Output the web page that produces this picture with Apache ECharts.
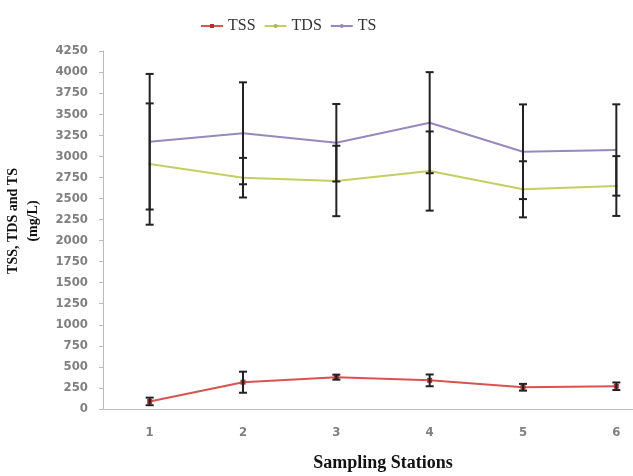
<!DOCTYPE html>
<html>
<head>
<meta charset="utf-8">
<script src="https://cdn.jsdelivr.net/npm/echarts@6/dist/echarts.min.js"></script>
<style>html,body{margin:0;padding:0;background:#fff;overflow:hidden;width:633px;height:476px;}#c{width:700px;height:476px;}</style>
</head>
<body>
<div id="c"></div>
<script>
const categories = ['1', '2', '3', '4', '5', '6'];
const tss = [90, 318, 378, 340, 258, 270];
const tssErr = [45, 125, 30, 70, 40, 45];
const tds = [2908, 2746, 2707, 2825, 2608, 2647];
const tdsErr = [720, 235, 418, 470, 333, 355];
const ts = [3173, 3273, 3161, 3399, 3054, 3075];
const tsErr = [805, 605, 460, 600, 562, 542];

function errData(vals, errs) {
  return vals.map((v, i) => [i, v - errs[i], v + errs[i]]);
}

function errSeries(name, vals, errs) {
  return {
    type: 'custom',
    name: name + ' err',
    z: 5,
    silent: true,
    data: errData(vals, errs),
    encode: { x: 0, y: [1, 2] },
    renderItem: function (params, api) {
      const x = api.value(0);
      const lo = api.coord([x, api.value(1)]);
      const hi = api.coord([x, api.value(2)]);
      const hw = 4;
      const style = { stroke: '#222', lineWidth: 2 };
      return {
        type: 'group',
        children: [
          { type: 'line', shape: { x1: lo[0], y1: lo[1], x2: hi[0], y2: hi[1] }, style: style },
          { type: 'line', shape: { x1: lo[0] - hw, y1: lo[1], x2: lo[0] + hw, y2: lo[1] }, style: style },
          { type: 'line', shape: { x1: hi[0] - hw, y1: hi[1], x2: hi[0] + hw, y2: hi[1] }, style: style }
        ]
      };
    }
  };
}

const tickFont = { fontFamily: 'DejaVu Sans Condensed, DejaVu Sans', fontWeight: 'bold', fontSize: 13, color: '#808080' };

const chart = echarts.init(document.getElementById('c'), null, { renderer: 'canvas' });
chart.setOption({
  animation: false,
  backgroundColor: '#fff',
  legend: {
    data: ['TSS', 'TDS', 'TS'],
    left: 195,
    top: 13,
    itemWidth: 22,
    itemHeight: 5,
    itemGap: 8,
    textStyle: { fontFamily: 'Liberation Serif', fontSize: 16, color: '#333' }
  },
  grid: { left: 103, right: 37, top: 51, bottom: 67, outerBoundsMode: 'none', containLabel: false },
  xAxis: {
    type: 'category',
    data: categories,
    boundaryGap: true,
    name: 'Sampling Stations',
    nameLocation: 'middle',
    nameGap: 45,
    nameTextStyle: { fontFamily: 'Liberation Serif', fontWeight: 'bold', fontSize: 18, color: '#111' },
    axisLine: { lineStyle: { color: '#bbb', width: 1 } },
    axisTick: { lineStyle: { color: '#bbb' }, length: 4 },
    axisLabel: Object.assign({ margin: 17 }, tickFont)
  },
  yAxis: {
    type: 'value',
    min: 0,
    max: 4250,
    interval: 250,
    name: 'TSS, TDS and TS\n(mg/L)',
    nameLocation: 'middle',
    nameRotate: 90,
    nameGap: 60,
    nameTextStyle: { fontFamily: 'Liberation Serif', fontWeight: 'bold', fontSize: 14, color: '#111', lineHeight: 20, padding: [0, 0, 0, 18] },
    splitLine: { show: false },
    axisLine: { show: true, lineStyle: { color: '#bbb', width: 1 } },
    axisTick: { show: true, lineStyle: { color: '#bbb' }, length: 4 },
    axisLabel: Object.assign({ margin: 15, formatter: function (v) { return String(v); } }, tickFont)
  },
  series: [
    {
      name: 'TSS', type: 'line', data: tss, z: 3,
      symbol: 'rect', symbolSize: 5, showSymbol: true,
      lineStyle: { color: '#d9534f', width: 2 },
      itemStyle: { color: '#a33' }
    },
    {
      name: 'TDS', type: 'line', data: tds, z: 3,
      symbol: 'circle', symbolSize: 3,
      lineStyle: { color: '#c3cf62', width: 2 },
      itemStyle: { color: '#a8b84a' }
    },
    {
      name: 'TS', type: 'line', data: ts, z: 3,
      symbol: 'none',
      lineStyle: { color: '#9888bd', width: 2 },
      itemStyle: { color: '#9888bd' }
    },
    errSeries('TSS', tss, tssErr),
    errSeries('TDS', tds, tdsErr),
    errSeries('TS', ts, tsErr)
  ]
});
</script>
</body>
</html>
